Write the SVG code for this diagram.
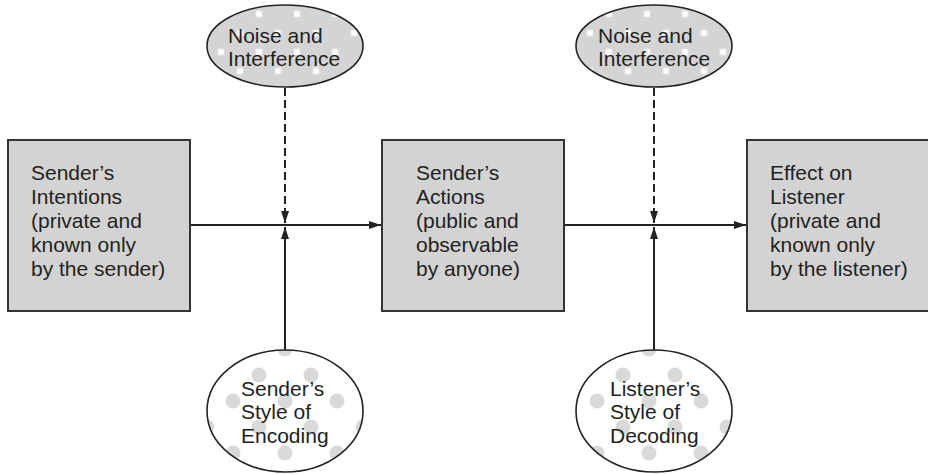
<svg xmlns="http://www.w3.org/2000/svg" width="928" height="474" viewBox="0 0 928 474">
<style>
.box{fill:#d3d3d3;stroke:#333;stroke-width:2}
.ell{stroke:#222;stroke-width:1.6}
.t{font-family:"Liberation Sans",Arial,Helvetica,sans-serif;font-size:21px;fill:#231f20}
.ln{stroke:#222;stroke-width:2;fill:none}
.dash{stroke-dasharray:8 4}
</style>
<defs>
<marker id="ah" viewBox="0 0 12 8" refX="12" refY="4" markerWidth="12" markerHeight="8" markerUnits="userSpaceOnUse" orient="auto">
<path d="M0,0 L12,4 L0,8 Z" fill="#222"/>
</marker>
<pattern id="sq1" patternUnits="userSpaceOnUse" x="254.5" y="9.5" width="38" height="38">
<rect width="38" height="38" fill="#d4d4d4"/>
<rect x="1.5" y="1.5" width="6" height="6" fill="#fff"/>
<rect x="20.5" y="20.5" width="6" height="6" fill="#fff"/>
</pattern>
<pattern id="sq2" patternUnits="userSpaceOnUse" x="642.5" y="9.5" width="38" height="38">
<rect width="38" height="38" fill="#d4d4d4"/>
<rect x="1.5" y="1.5" width="6" height="6" fill="#fff"/>
<rect x="20.5" y="20.5" width="6" height="6" fill="#fff"/>
</pattern>
<pattern id="dot1" patternUnits="userSpaceOnUse" x="259" y="375" width="52" height="52">
<rect width="52" height="52" fill="#fff"/>
<circle cx="0" cy="0" r="7.5" fill="#d9d9d9"/>
<circle cx="52" cy="0" r="7.5" fill="#d9d9d9"/>
<circle cx="0" cy="52" r="7.5" fill="#d9d9d9"/>
<circle cx="52" cy="52" r="7.5" fill="#d9d9d9"/>
<circle cx="26" cy="26" r="7.5" fill="#d9d9d9"/>
</pattern>
<pattern id="dot2" patternUnits="userSpaceOnUse" x="623" y="375" width="52" height="52">
<rect width="52" height="52" fill="#fff"/>
<circle cx="0" cy="0" r="7.5" fill="#d9d9d9"/>
<circle cx="52" cy="0" r="7.5" fill="#d9d9d9"/>
<circle cx="0" cy="52" r="7.5" fill="#d9d9d9"/>
<circle cx="52" cy="52" r="7.5" fill="#d9d9d9"/>
<circle cx="26" cy="26" r="7.5" fill="#d9d9d9"/>
</pattern>
</defs>

<g id="connectors">
<line class="ln" x1="190" y1="225" x2="381" y2="225" marker-end="url(#ah)"/>
<line class="ln" x1="564" y1="225" x2="746" y2="225" marker-end="url(#ah)"/>
<line class="ln dash" x1="285" y1="88" x2="285" y2="223" marker-end="url(#ah)"/>
<line class="ln" x1="285" y1="350" x2="285" y2="227" marker-end="url(#ah)"/>
<line class="ln dash" x1="654" y1="88" x2="654" y2="223" marker-end="url(#ah)"/>
<line class="ln" x1="654" y1="350" x2="654" y2="227" marker-end="url(#ah)"/>
</g>

<g id="intentions">
<rect class="box" x="8" y="140" width="182" height="171"/>
<text class="t" x="31" y="180">Sender’s</text>
<text class="t" x="31" y="204">Intentions</text>
<text class="t" x="31" y="228">(private and</text>
<text class="t" x="31" y="252">known only</text>
<text class="t" x="31" y="276">by the sender)</text>
</g>

<g id="actions">
<rect class="box" x="382" y="140" width="182" height="171"/>
<text class="t" x="416" y="180">Sender’s</text>
<text class="t" x="416" y="204">Actions</text>
<text class="t" x="416" y="228">(public and</text>
<text class="t" x="416" y="252">observable</text>
<text class="t" x="416" y="276">by anyone)</text>
</g>

<g id="effect">
<rect class="box" x="747" y="140" width="186" height="171"/>
<text class="t" x="770" y="180">Effect on</text>
<text class="t" x="770" y="204">Listener</text>
<text class="t" x="770" y="228">(private and</text>
<text class="t" x="770" y="252">known only</text>
<text class="t" x="770" y="276">by the listener)</text>
</g>

<g id="noise1">
<ellipse class="ell" cx="285" cy="46" rx="78" ry="41" fill="url(#sq1)"/>
<text class="t" x="228" y="43">Noise and</text>
<text class="t" x="228" y="66">Interference</text>
</g>

<g id="noise2">
<ellipse class="ell" cx="654" cy="46" rx="78" ry="41" fill="url(#sq2)"/>
<text class="t" x="598" y="43">Noise and</text>
<text class="t" x="598" y="66">Interference</text>
</g>

<g id="encoding">
<ellipse class="ell" cx="285" cy="411" rx="78" ry="61" fill="url(#dot1)"/>
<text class="t" x="241" y="396">Sender’s</text>
<text class="t" x="241" y="419">Style of</text>
<text class="t" x="241" y="443">Encoding</text>
</g>

<g id="decoding">
<ellipse class="ell" cx="654" cy="411" rx="78" ry="61" fill="url(#dot2)"/>
<text class="t" x="610" y="396">Listener’s</text>
<text class="t" x="610" y="419">Style of</text>
<text class="t" x="610" y="443">Decoding</text>
</g>
</svg>
